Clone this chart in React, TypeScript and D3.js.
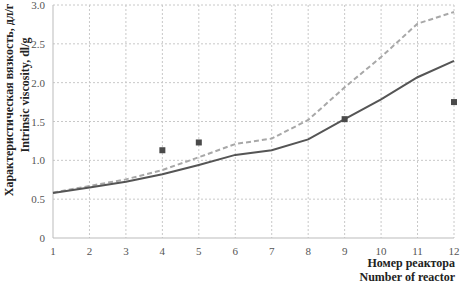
import React from "react";
import * as d3 from "d3";

const reactors = [1, 2, 3, 4, 5, 6, 7, 8, 9, 10, 11, 12];
const solidSeries = [0.58, 0.65, 0.725, 0.82, 0.94, 1.07, 1.13, 1.27, 1.53, 1.785, 2.07, 2.28];
const dashedSeries = [0.585, 0.67, 0.755, 0.875, 1.04, 1.21, 1.28, 1.52, 1.94, 2.33, 2.76, 2.91];
const pointX = [4, 5, 9, 12];
const pointY = [1.13, 1.23, 1.53, 1.75];
const yTicks = [0, 0.5, 1.0, 1.5, 2.0, 2.5, 3.0];
const yTickLabels = ["0", "0.5", "1.0", "1.5", "2.0", "2.5", "3.0"];

export default function App() {
  const W = 461, H = 286;
  const left = 53, right = 454, top = 5, bottom = 238;
  const x = d3.scaleLinear().domain([1, 12]).range([left, right]);
  const y = d3.scaleLinear().domain([0, 3]).range([bottom, top]);
  const line = d3.line<number>().x((_, i) => x(reactors[i])).y((d) => y(d));
  const ff = { fontFamily: "'Liberation Serif', 'DejaVu Serif', serif" };
  return (
    <svg width={W} height={H} style={{ position: "absolute", left: 0, top: 0, background: "#fff" }}>
      {reactors.slice(1).map((r) => (
        <line key={"vx" + r} x1={x(r)} x2={x(r)} y1={top} y2={bottom} stroke="#c8c8c8" strokeWidth={1} strokeDasharray="2,2" />
      ))}
      {yTicks.slice(1).map((t) => (
        <line key={"hy" + t} x1={left} x2={right} y1={y(t)} y2={y(t)} stroke="#c8c8c8" strokeWidth={1} strokeDasharray="2,2" />
      ))}
      <line x1={left} x2={left} y1={top} y2={bottom} stroke="#bbb" strokeWidth={1} />
      <line x1={left} x2={right} y1={bottom} y2={bottom} stroke="#bbb" strokeWidth={1} />
      {yTicks.map((t, i) => (
        <text key={"yl" + t} x={45} y={y(t) + 4} textAnchor="end" fontSize={11} fill="#555" style={ff}>{yTickLabels[i]}</text>
      ))}
      {reactors.map((r) => (
        <text key={"xl" + r} x={x(r)} y={255} textAnchor="middle" fontSize={11} fill="#555" style={ff}>{r}</text>
      ))}
      <path d={line(dashedSeries) || ""} fill="none" stroke="#a8a8a8" strokeWidth={2} strokeDasharray="5,3" />
      <path d={line(solidSeries) || ""} fill="none" stroke="#555" strokeWidth={2} />
      {pointX.map((px, i) => (
        <rect key={"p" + i} x={x(px) - 3} y={y(pointY[i]) - 3} width={6} height={6} fill="#4a4a4a" />
      ))}
      <text transform="translate(13,100) rotate(-90)" textAnchor="middle" fontSize={12} fontWeight="bold" fill="#222" style={ff}>Характеристическая вязкость, дл/г</text>
      <text transform="translate(29,95) rotate(-90)" textAnchor="middle" fontSize={12} fontWeight="bold" fill="#222" style={ff}>Intrinsic viscosity, dl/g</text>
      <text x={455} y={267} textAnchor="end" fontSize={12} fontWeight="bold" fill="#222" style={ff}>Номер реактора</text>
      <text x={455} y={281} textAnchor="end" fontSize={12} fontWeight="bold" fill="#222" style={ff}>Number of reactor</text>
    </svg>
  );
}
